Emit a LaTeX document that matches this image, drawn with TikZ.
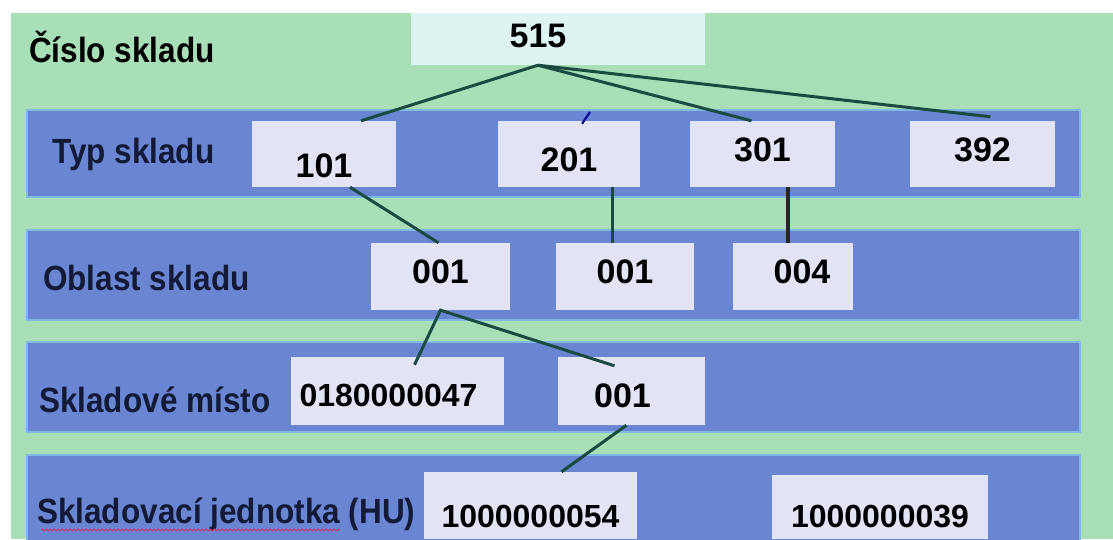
\documentclass[tikz,border=0pt]{standalone}
\usepackage{fontspec}
\setmainfont{Liberation Sans}
\newfontfamily\rowlabelfamily[FakeStretch=0.9]{Liberation Sans}
\usetikzlibrary{decorations.pathmorphing}

\definecolor{bggreen}{RGB}{168,223,182}
\definecolor{bandblue}{RGB}{106,134,210}
\definecolor{bandedge}{RGB}{130,185,228}
\definecolor{boxfill}{RGB}{226,228,245}
\definecolor{topfill}{RGB}{222,244,242}
\definecolor{linkcol}{RGB}{26,74,64}
\definecolor{lbltext}{RGB}{18,26,56}
\definecolor{typo}{RGB}{214,48,110}

\newcommand{\rowlabelfont}{\rowlabelfamily\bfseries\fontsize{35}{40}\selectfont}
\newcommand{\boxnumfont}{\bfseries\fontsize{34}{40}\selectfont}
\newcommand{\longnumfont}{\bfseries\fontsize{32}{38}\selectfont}

\begin{document}
\begin{tikzpicture}[
x=1pt,
y=-1pt,
band/.style={fill=bandblue, draw=bandedge, line width=1.5pt},
box/.style={fill=boxfill, inner sep=0pt, text depth=0pt, font=\boxnumfont},
longbox/.style={box, font=\longnumfont},
rowlabel/.style={anchor=base west, inner sep=0pt, font=\rowlabelfont, text=lbltext},
link/.style={draw=linkcol, line width=3pt}
]
\useasboundingbox (0,0) rectangle (1113,539);
\fill[bggreen] (11,13) rectangle (1113,539);

% level bands
\path[band] (27,110) rectangle (1080,197);
\path[band] (27,230) rectangle (1080,320);
\path[band] (27,342) rectangle (1080,432);
\path[band] (27,455) rectangle (1080,545);

% level names
\node[rowlabel, text=black] (lcislo) at (29,62) {Číslo skladu};
\node[rowlabel] (ltyp) at (52,163) {Typ skladu};
\node[rowlabel] (loblast) at (43,290) {Oblast skladu};
\node[rowlabel] (lmisto) at (39,412) {Skladové místo};
\node[rowlabel] (lhu) at (37,523) {Skladovací jednotka (HU)};
\draw[typo, line width=1pt, decorate, decoration={snake, amplitude=1pt, segment length=4pt}]
  ([xshift=4pt,yshift=-7pt]lhu.base west) -- ([xshift=303pt,yshift=-7pt]lhu.base west);

% warehouse number
\node[fill=topfill, minimum width=294pt, minimum height=52pt] (b515) at (558,39) {};
\node[font=\boxnumfont, inner sep=0pt] (n515) at (538,35.5) {515};

% storage types
\node[box, minimum width=144pt, minimum height=66pt, text height=47pt] (b101) at (324,154) {101};
\node[box, minimum width=142pt, minimum height=66pt, text height=34pt] (b201) at (569,154) {201};
\node[box, minimum width=145pt, minimum height=66pt, text height=14pt] (b301) at (762.5,154) {301};
\node[box, minimum width=145pt, minimum height=66pt, text height=14pt] (b392) at (982.5,154) {392};

% storage sections
\node[box, minimum width=139pt, minimum height=67pt, text height=14pt] (b001a) at (440.5,276.5) {001};
\node[box, minimum width=138pt, minimum height=67pt, text height=14pt] (b001b) at (625,276.5) {001};
\node[box, minimum width=120pt, minimum height=67pt, text height=14pt] (b004) at (793,276.5) {\hspace*{18pt}004};

% storage bins
\node[longbox, minimum width=213pt, minimum height=68pt, text height=31pt] (b0180) at (397.5,391) {0180000047\hspace*{18pt}};
\node[box, minimum width=147pt, minimum height=68pt, text height=32pt] (b001c) at (631.5,391) {001\hspace*{18pt}};

% handling units
\node[longbox, minimum width=213pt, minimum height=67pt, text height=43pt] (b1054) at (530.5,505.5) {1000000054};
\node[longbox, minimum width=216pt, minimum height=64pt, text height=40pt] (b1039) at (880,507) {1000000039};

% links
\coordinate (apex) at (n515 |- b515.south);
\draw[link] (apex) -- ([xshift=37pt]b101.north);
\draw[link] (apex) -- ([xshift=-11pt]b301.north);
\draw[link] (apex) -- ([xshift=8pt,yshift=4pt]b392.north);
\coordinate (stub) at (590,112);
\draw[link, line width=2pt, draw=blue!60!black] (stub) -- ([xshift=13pt,yshift=-3pt]b201.north);
\draw[link] ([xshift=26pt]b101.south) -- ([xshift=-2pt]b001a.north);
\draw[link] ([xshift=43pt]b201.south) -- ([xshift=-13pt]b001b.north);
\draw[link, line width=4pt, draw=black!85] ([xshift=25.5pt]b301.south) -- ([xshift=-5pt]b004.north);
\draw[link] ([xshift=17pt,yshift=-8pt]b0180.north) -- (b001a.south) -- ([xshift=-17pt,yshift=-9pt]b001c.north);
\draw[link] ([xshift=-5pt]b001c.south) -- ([xshift=31pt]b1054.north);
\end{tikzpicture}
\end{document}
